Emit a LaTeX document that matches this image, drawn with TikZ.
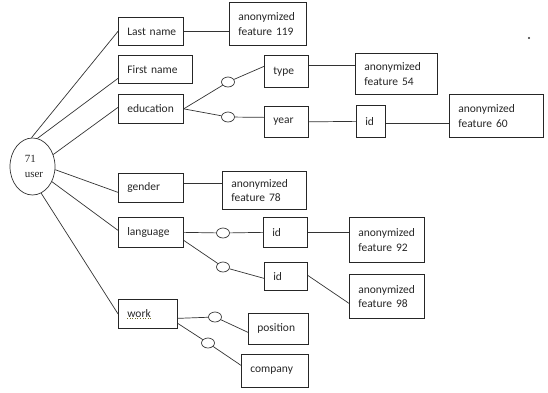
\documentclass[tikz,border=0pt]{standalone}
\usepackage{fontspec}
\setmainfont{Carlito}
\newfontfamily\serifuser{Liberation Serif}
\usetikzlibrary{shapes.geometric}
\tikzset{
  box/.style={draw=black!85, line width=0.7pt, rectangle, inner xsep=9pt, inner ysep=0pt,
    align=left, anchor=north west, font=\fontsize{11.5}{14.5}\selectfont, text=black!85},
  link/.style={draw=black!80, line width=0.7pt},
  opt/.style={draw=black!80, line width=0.7pt, ellipse, minimum width=13pt, minimum height=10pt, inner sep=0pt, fill=white},
}
\newcommand\bx[6]{%
  \pgfmathsetmacro\bxw{#4-#2}%
  \pgfmathsetmacro\bxh{#5-#3}%
  \pgfmathsetmacro\bxt{#4-#2-18}%
  \node[box, minimum width=\bxw pt, minimum height=\bxh pt, text width=\bxt pt] (#1) at (#2,#3) {#6};}
\begin{document}
\begin{tikzpicture}[x=1pt,y=-1pt]
\useasboundingbox (0,0) rectangle (548,392);
% user entity
\node[draw=black!80, line width=0.7pt, ellipse, minimum width=45pt, minimum height=57pt, inner sep=0pt] (user) at (32.5,166.5) {};
\node[align=left, font=\serifuser\fontsize{11}{15}\selectfont, text=black!85, inner sep=0pt] (usertext) at (34,166) {71\\user};
% boxes
\bx{last}{118}{17}{183}{45}{\mbox{Last name}}
\bx{a119}{229}{2}{306}{45}{anonymized\\feature 119}
\bx{first}{118}{55}{192}{83}{\mbox{First name}}
\bx{edu}{118}{94}{183}{123}{education}
\bx{type}{264}{55}{308}{87}{type}
\bx{a54}{355}{53}{437}{94}{anonymized\\feature 54}
\bx{year}{264}{106}{308}{137}{year}
\bx{eid}{356}{105}{385}{137}{id}
\bx{a60}{449}{94}{543}{137}{anonymized\\feature 60}
\bx{gender}{118}{173}{183}{202}{gender}
\bx{a78}{222}{171}{306}{209}{anonymized\\feature 78}
\bx{lang}{118}{217}{183}{247}{language}
\bx{lid1}{263}{217}{307}{247}{id}
\bx{a92}{349}{217}{424}{262}{anonymized\\feature 92}
\bx{lid2}{264}{262}{307}{290}{id}
\bx{a98}{349}{274}{424}{318}{anonymized\\feature 98}
\bx{work}{118}{299}{177}{328}{work}
\bx{pos}{248}{313}{308}{344}{position}
\bx{comp}{241}{354}{308}{387}{company}
% optional markers
\node[opt] (ce1) at (228,82) {};
\node[opt] (ce2) at (228,117) {};
\node[opt] (cl1) at (223,233) {};
\node[opt] (cl2) at (223,267) {};
\node[opt] (cw1) at (215,317) {};
\node[opt] (cw2) at (208,343) {};
% user links
\draw[link] (user.92) -- (last.west);
\draw[link] (user.80) -- ([yshift=-9pt]first.west);
\draw[link] (user.30) -- ([yshift=1.5pt]edu.west);
\draw[link] (user.-8) -- ([yshift=-4.5pt]gender.west);
\draw[link] (user.-38) -- ([yshift=2pt]lang.west);
\draw[link] (user.-72) -- (work.west);
% attribute links
\draw[link] (last.east) -- ([yshift=-7.5pt]a119.west);
\draw[link] (edu.east) -- (ce1) -- ([yshift=5pt]type.west);
\draw[link] (edu.east) -- (ce2) -- ([yshift=4.5pt]year.west);
\draw[link] ([yshift=6pt]type.east) -- ([yshift=8.5pt]a54.west);
\draw[link] (year.east) -- (eid.west);
\draw[link] ([yshift=-2pt]eid.east) -- ([yshift=-7.5pt]a60.west);
\draw[link] ([yshift=4.5pt]gender.east) -- ([yshift=7pt]a78.west);
\draw[link] (lang.east) -- (cl1) -- (lid1.west);
\draw[link] ([yshift=-8pt]lang.east) -- (cl2) -- ([yshift=-2pt]lid2.west);
\draw[link] (lid1.east) -- ([yshift=7.5pt]a92.west);
\draw[link] ([yshift=1pt]lid2.east) -- ([yshift=-7pt]a98.west);
\draw[link] ([yshift=-4.5pt]work.east) -- (cw1) -- ([yshift=-3.5pt]pos.west);
\draw[link] ([yshift=-9.5pt]work.east) -- (cw2) -- ([yshift=5.5pt]comp.west);
% spell-check squiggle under "work" and stray dot
\draw[olive!70!black, dotted, line width=0.6pt] (127,318) -- (151,318);
\fill[black!80] (529,38) circle (1.1pt);
\end{tikzpicture}
\end{document}
